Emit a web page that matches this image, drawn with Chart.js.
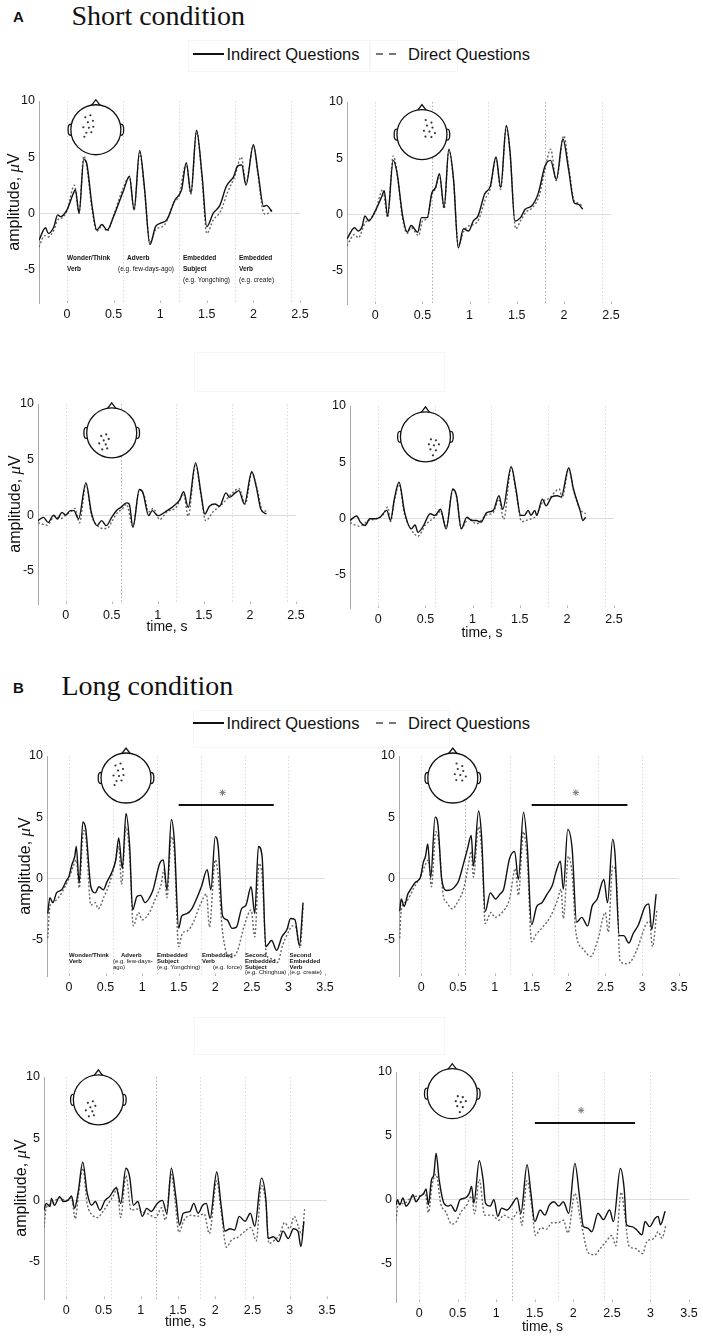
<!DOCTYPE html>
<html>
<head>
<meta charset="utf-8">
<script src="https://cdn.jsdelivr.net/npm/chart.js"></script>
<style>
  html, body { margin:0; padding:0; background:#fff; }
  body { width:703px; height:1339px; position:relative; overflow:hidden; font-family:"Liberation Sans", Arial, Helvetica, sans-serif; color:#111; }
  .abs { position:absolute; white-space:nowrap; line-height:1; }
  .panelLetter { font-weight:bold; font-size:15px; }
  .title { font-family:"Liberation Serif", "Times New Roman", serif; font-size:28px; }
  .legtext { font-size:16.5px; }
  .ytitle { font-size:16px; transform:translate(-50%,-50%) rotate(-90deg); }
  .ytitle i { font-family:"Liberation Serif", serif; font-size:17px; }
  .ann { font-size:6.5px; line-height:11px; }
  .ann b { font-weight:bold; }
  .annL { font-size:6px; line-height:5.8px; }
  .annL b { font-weight:bold; }
  .fbox { position:absolute; border:1px solid #f6f6f6; box-sizing:border-box; }
</style>
</head>
<body>
<script>
// ---------------- DATA ----------------
const SERIES_LABELS = ['Indirect Questions', 'Direct Questions'];
const Y_TICKS = [-5, 0, 5, 10];
const SHORT_X_TICKS = [0, 0.5, 1, 1.5, 2, 2.5];
const LONG_X_TICKS = [0, 0.5, 1, 1.5, 2, 2.5, 3, 3.5];
const SHORT_ONSETS = [0, 0.6, 1.2, 1.8, 2.4];
const LONG_ONSETS = [0, 0.6, 1.2, 1.8, 2.4, 3.0];
const SIG_T = [1.5, 2.8];
const SIG_V = [6, 6];
const STAR_T = [2.1];
const STAR_V = [7];

// Short condition, left-frontal
const A1_IND_T = [-0.30,-0.23,-0.20,-0.14,-0.10,-0.07,0.00,0.07,0.09,0.13,0.18,0.21,0.27,0.32,0.375,0.43,0.50,0.61,0.67,0.72,0.78,0.83,0.89,0.95,1.00,1.07,1.16,1.23,1.28,1.33,1.39,1.45,1.50,1.57,1.64,1.71,1.79,1.83,1.875,1.92,2.00,2.05,2.11,2.14,2.20];
const A1_IND_V = [-2.4,-1.3,-1.8,-1.2,-0.15,-0.3,0.3,1.8,2.1,0.0,4.8,4.5,0.6,-1.5,-1.0,-1.5,-0.3,2.1,3.3,0.3,5.6,2.4,-2.8,-1.2,-0.9,-0.6,1.2,2.1,4.5,1.8,7.4,3.3,-1.2,0.0,0.7,2.4,3.3,4.2,4.3,2.5,6.1,3.6,0.6,0.7,0.15];
const A1_DIR_T = [-0.30,-0.24,-0.20,-0.14,-0.10,-0.05,0.00,0.08,0.13,0.18,0.21,0.27,0.32,0.38,0.43,0.50,0.60,0.67,0.72,0.78,0.83,0.89,0.95,1.05,1.15,1.20,1.28,1.33,1.39,1.45,1.50,1.57,1.65,1.72,1.80,1.87,1.92,2.00,2.05,2.10,2.13,2.20];
const A1_DIR_V = [-3.0,-2.0,-2.1,-1.5,-0.6,-0.4,0.2,2.5,0.0,5.1,4.3,0.3,-1.6,-1.1,-1.6,-0.2,2.2,3.2,0.3,5.4,2.2,-2.6,-1.5,-1.0,1.0,1.5,4.4,1.7,7.3,3.0,-1.8,-0.6,0.2,1.8,3.3,5.0,2.7,6.0,3.4,0.3,-0.1,0.3];

// Short condition, right-frontal
const A2_IND_T = [-0.30,-0.22,-0.18,-0.14,-0.11,-0.07,0.00,0.07,0.095,0.13,0.19,0.23,0.29,0.34,0.38,0.45,0.49,0.55,0.60,0.64,0.68,0.73,0.78,0.83,0.88,0.935,0.99,1.04,1.09,1.16,1.22,1.28,1.33,1.39,1.43,1.48,1.54,1.59,1.66,1.73,1.80,1.86,1.92,1.99,2.05,2.11,2.15,2.20];
const A2_IND_V = [-2.2,-1.2,-1.5,-1.1,-0.15,-0.6,0.3,1.6,2.1,-0.15,4.8,3.7,-0.15,-1.6,-1.0,-1.6,-0.3,-0.3,1.9,2.4,3.6,0.6,5.8,3.1,-3.0,-1.3,-1.5,-0.6,-0.15,1.8,2.5,5.1,2.4,7.9,5.5,-0.6,-0.3,0.45,0.75,1.9,4.3,4.8,3.1,6.7,4.0,1.0,0.9,0.45];
const A2_DIR_T = [-0.30,-0.22,-0.18,-0.11,-0.05,0.00,0.08,0.13,0.19,0.23,0.29,0.34,0.38,0.46,0.50,0.55,0.60,0.64,0.68,0.73,0.78,0.83,0.88,0.94,1.00,1.05,1.10,1.17,1.22,1.28,1.33,1.39,1.43,1.49,1.54,1.60,1.67,1.74,1.80,1.86,1.92,2.00,2.05,2.11,2.15,2.20];
const A2_DIR_V = [-2.8,-1.8,-2.1,-0.8,-0.4,0.2,2.2,-0.3,5.2,3.8,-0.4,-1.7,-1.2,-1.9,-0.6,-0.4,1.7,2.3,3.5,0.5,5.7,3.0,-2.8,-1.5,-1.0,-0.9,-0.4,1.4,2.3,5.0,2.2,7.8,5.3,-1.3,-0.6,0.2,0.6,1.7,4.0,5.8,3.0,7.0,4.3,1.2,1.0,0.7];

// Short condition, left-posterior
const A3_IND_T = [-0.30,-0.24,-0.19,-0.13,-0.09,-0.04,0.00,0.05,0.09,0.14,0.22,0.28,0.34,0.39,0.44,0.50,0.55,0.60,0.66,0.69,0.73,0.80,0.84,0.90,0.94,1.00,1.10,1.17,1.24,1.28,1.33,1.41,1.47,1.51,1.56,1.62,1.67,1.74,1.78,1.84,1.88,1.94,2.02,2.07,2.12,2.18];
const A3_IND_V = [-0.5,-0.2,-0.65,0.0,-0.35,0.25,0.0,0.4,0.4,-0.35,2.9,0.2,-0.95,-0.5,-0.95,-0.2,0.4,0.7,1.1,1.0,-1.1,2.3,2.0,-0.05,0.4,-0.05,0.4,0.8,1.4,2.1,0.7,4.7,1.9,0.1,0.8,1.0,0.8,2.0,1.6,2.0,2.2,1.0,3.9,2.5,0.5,0.1];
const A3_DIR_T = [-0.30,-0.20,-0.12,-0.05,0.00,0.05,0.10,0.15,0.22,0.28,0.34,0.40,0.45,0.50,0.56,0.62,0.66,0.73,0.80,0.85,0.90,0.95,1.02,1.10,1.20,1.28,1.33,1.41,1.47,1.52,1.60,1.70,1.80,1.88,1.95,2.02,2.08,2.14,2.20];
const A3_DIR_V = [-0.7,-0.9,-0.1,-0.3,0.0,0.3,0.6,-0.7,2.8,0.0,-0.9,-1.2,-1.2,-0.6,0.2,0.6,1.0,-1.0,2.3,1.8,0.3,0.6,-0.4,0.3,0.7,1.9,-0.1,4.6,1.7,-0.5,0.3,1.0,1.9,2.4,1.0,3.8,2.3,0.3,0.5];

// Short condition, right-posterior
const A4_IND_T = [-0.30,-0.23,-0.19,-0.14,-0.09,-0.035,0.02,0.09,0.13,0.17,0.22,0.28,0.35,0.39,0.42,0.48,0.55,0.60,0.66,0.72,0.79,0.83,0.88,0.94,0.99,1.04,1.09,1.15,1.22,1.28,1.32,1.41,1.46,1.51,1.55,1.59,1.62,1.66,1.68,1.74,1.78,1.84,1.90,1.94,2.02,2.07,2.14,2.17,2.20];
const A4_IND_V = [-0.2,0.2,-0.35,-0.65,-0.05,-0.05,0.1,0.7,-0.2,1.7,3.2,0.5,-0.95,-0.6,-1.25,-0.65,0.4,0.25,0.8,-0.95,2.6,2.0,-0.95,0.1,-0.2,-0.2,-0.35,0.5,0.7,2.0,0.8,4.6,2.6,0.25,0.25,0.7,0.25,0.7,0.25,1.7,1.1,1.9,2.0,1.9,4.5,2.6,0.7,-0.2,0.1];
const A4_DIR_T = [-0.30,-0.20,-0.10,0.00,0.05,0.10,0.13,0.17,0.22,0.28,0.35,0.42,0.50,0.60,0.66,0.72,0.79,0.83,0.88,0.96,1.04,1.15,1.22,1.28,1.33,1.41,1.46,1.52,1.60,1.66,1.75,1.82,1.88,1.92,1.95,2.02,2.07,2.14,2.20];
const A4_DIR_V = [-0.4,-0.7,-0.2,0.0,0.3,1.0,-0.3,1.5,3.0,0.3,-1.0,-1.6,-0.6,0.1,0.6,-0.8,2.5,1.9,-0.9,0.0,-0.5,0.3,0.5,1.7,-0.1,4.5,2.4,-0.3,-0.1,0.1,1.5,1.8,2.4,2.6,1.8,4.4,2.5,0.8,0.4];

// Long condition, left-frontal
const B1_IND_T = [-0.29,-0.26,-0.22,-0.17,-0.10,-0.03,0.00,0.04,0.08,0.10,0.14,0.19,0.23,0.30,0.36,0.41,0.47,0.52,0.58,0.64,0.68,0.73,0.78,0.83,0.87,0.93,0.98,1.04,1.10,1.15,1.24,1.29,1.34,1.40,1.44,1.50,1.54,1.61,1.68,1.75,1.81,1.89,1.94,2.00,2.04,2.10,2.16,2.23,2.29,2.36,2.42,2.49,2.54,2.59,2.64,2.69,2.77,2.84,2.91,2.98,3.03,3.09,3.15,3.20];
const B1_IND_V = [-2.9,-1.6,-2.0,-1.2,-0.95,-0.15,0.15,1.1,1.8,2.6,-0.4,4.6,4.0,-0.7,-1.2,-0.7,-0.95,-0.3,0.4,1.5,3.3,0.8,5.3,2.6,-2.6,-1.5,-1.4,-2.0,-1.6,-0.95,1.2,1.5,-0.95,4.8,3.1,-4.1,-3.1,-2.9,-2.5,-1.6,-0.7,0.7,-0.95,3.4,2.6,-3.1,-3.4,-4.1,-4.0,-2.5,-2.2,-0.7,-2.9,2.6,1.8,-5.6,-5.1,-5.9,-4.8,-4.2,-3.3,-3.4,-5.5,-2.0];
const B1_DIR_T = [-0.29,-0.26,-0.20,-0.10,0.00,0.06,0.10,0.14,0.20,0.23,0.30,0.36,0.40,0.48,0.55,0.63,0.68,0.72,0.78,0.83,0.88,0.95,1.00,1.10,1.18,1.26,1.30,1.34,1.40,1.44,1.50,1.55,1.62,1.70,1.80,1.88,1.92,2.00,2.04,2.10,2.20,2.30,2.40,2.49,2.54,2.60,2.64,2.70,2.78,2.85,2.92,3.00,3.05,3.10,3.16,3.20];
const B1_DIR_V = [-4.9,-2.3,-1.9,-1.2,0.0,1.0,1.5,-0.8,3.9,3.4,-2.2,-2.0,-2.5,-1.5,-0.5,1.3,2.6,-0.5,4.2,1.8,-3.9,-2.8,-3.4,-2.8,-1.7,-0.5,0.7,-1.6,3.4,2.2,-5.6,-4.5,-4.3,-3.6,-2.1,-1.3,-4.0,1.5,0.2,-4.4,-6.5,-6.0,-3.8,-2.6,-4.8,1.2,0.2,-6.3,-6.6,-6.9,-5.5,-4.4,-3.9,-4.0,-5.7,-2.3];

// Long condition, right-frontal
const B2_IND_T = [-0.29,-0.27,-0.23,-0.18,-0.14,-0.08,-0.01,0.03,0.06,0.09,0.13,0.19,0.23,0.28,0.35,0.42,0.47,0.51,0.58,0.63,0.68,0.71,0.78,0.82,0.87,0.94,1.01,1.07,1.12,1.20,1.27,1.32,1.39,1.44,1.50,1.57,1.64,1.71,1.78,1.83,1.89,1.93,1.99,2.05,2.11,2.18,2.26,2.32,2.39,2.48,2.53,2.60,2.63,2.69,2.75,2.82,2.88,2.95,3.04,3.09,3.13,3.19];
const B2_IND_V = [-2.7,-1.7,-2.3,-1.3,-0.9,-0.35,0.05,1.3,1.8,2.8,0.05,5.0,4.3,-0.1,-1.0,-0.9,-0.6,-0.2,1.3,2.4,3.5,1.0,5.5,3.5,-2.7,-1.2,-1.7,-1.3,-0.9,1.6,2.2,-0.1,5.4,2.7,-3.8,-2.3,-2.0,-1.3,-0.6,0.5,1.4,-0.9,4.0,2.4,-3.6,-3.2,-3.9,-2.3,-1.7,-0.1,-2.0,3.2,2.1,-4.7,-4.7,-5.3,-4.5,-3.8,-2.3,-2.1,-4.2,-1.3];
const B2_DIR_T = [-0.29,-0.27,-0.20,-0.10,0.00,0.05,0.10,0.14,0.20,0.24,0.30,0.35,0.42,0.50,0.58,0.64,0.68,0.71,0.78,0.83,0.87,0.95,1.00,1.10,1.20,1.28,1.32,1.39,1.44,1.50,1.56,1.65,1.75,1.85,1.90,1.93,2.00,2.05,2.10,2.20,2.30,2.40,2.50,2.54,2.60,2.65,2.70,2.80,2.88,2.95,3.05,3.10,3.14,3.20];
const B2_DIR_V = [-4.9,-2.6,-1.9,-0.8,0.2,1.0,1.5,-0.7,3.8,3.0,-1.4,-2.0,-2.5,-1.9,-0.8,1.0,2.2,0.1,4.2,1.5,-3.7,-2.8,-3.2,-2.8,-1.7,0.8,-1.4,3.8,1.5,-5.2,-4.6,-4.0,-3.2,-1.8,-0.9,-3.3,1.8,0.3,-4.4,-5.8,-6.4,-5.0,-2.8,-4.4,1.0,0.0,-6.8,-7.0,-6.5,-5.5,-3.8,-3.5,-5.6,-2.6];

// Long condition, left-posterior
const B3_IND_T = [-0.30,-0.27,-0.22,-0.20,-0.16,-0.09,-0.04,0.02,0.07,0.11,0.16,0.22,0.28,0.34,0.39,0.45,0.52,0.58,0.67,0.73,0.80,0.85,0.90,0.96,1.02,1.08,1.14,1.22,1.29,1.35,1.41,1.47,1.52,1.57,1.66,1.71,1.77,1.83,1.88,1.93,2.02,2.08,2.13,2.20,2.26,2.32,2.40,2.47,2.53,2.62,2.68,2.71,2.78,2.85,2.91,2.98,3.05,3.11,3.15,3.19];
const B3_IND_V = [-0.8,-0.25,-0.5,0.15,-0.4,0.3,-0.1,0.0,0.35,-0.65,0.7,3.1,0.6,-0.4,-0.1,-0.8,0.0,0.3,1.0,-0.25,2.6,1.9,-0.4,-0.1,-1.3,-0.65,-0.9,-0.25,0.0,-1.05,2.6,0.3,-2.0,-1.05,-0.9,-0.25,-1.05,-0.4,-0.25,-1.45,2.3,-0.5,-2.5,-2.3,-2.4,-1.3,-1.7,-1.05,-2.1,1.8,0.0,-3.1,-2.95,-3.35,-2.5,-3.1,-2.3,-2.5,-3.75,-1.7];
const B3_DIR_T = [-0.30,-0.27,-0.20,-0.10,0.00,0.07,0.12,0.16,0.22,0.28,0.35,0.42,0.48,0.56,0.65,0.68,0.73,0.80,0.87,0.95,1.00,1.10,1.20,1.28,1.33,1.41,1.46,1.51,1.58,1.68,1.76,1.85,1.92,2.02,2.08,2.15,2.22,2.30,2.40,2.48,2.55,2.62,2.68,2.72,2.80,2.87,2.93,3.00,3.06,3.12,3.16,3.20];
const B3_DIR_V = [-2.2,-0.6,-0.3,0.2,0.0,0.2,-1.5,0.3,2.6,-0.3,-1.2,-1.4,-1.0,-0.3,0.6,1.1,-1.4,2.0,-0.8,-0.7,-0.9,-1.1,-1.4,-0.6,-1.6,2.1,0.0,-2.6,-1.6,-1.2,-1.3,-1.1,-2.7,1.6,-1.0,-3.8,-3.2,-3.0,-2.5,-2.2,-3.3,1.2,-0.3,-3.5,-3.2,-2.7,-1.8,-2.3,-1.3,-2.2,-2.8,-0.7];

// Long condition, right-posterior
const B4_IND_T = [-0.30,-0.28,-0.25,-0.21,-0.17,-0.13,-0.08,-0.04,0.01,0.06,0.09,0.12,0.16,0.19,0.22,0.26,0.32,0.38,0.41,0.47,0.53,0.60,0.65,0.68,0.71,0.78,0.83,0.86,0.92,0.97,1.02,1.07,1.14,1.20,1.27,1.32,1.40,1.45,1.50,1.57,1.63,1.69,1.75,1.81,1.87,1.94,2.02,2.08,2.13,2.18,2.24,2.32,2.39,2.47,2.52,2.61,2.66,2.69,2.76,2.82,2.89,2.93,2.99,3.06,3.10,3.13,3.19];
const B4_IND_V = [-0.4,0.0,-0.4,0.15,-0.5,-0.25,0.4,-0.15,0.25,0.5,0.85,-0.4,1.55,1.95,3.65,1.55,-0.25,-0.5,-0.4,-0.9,0.0,0.15,0.5,1.05,-0.25,3.05,1.55,-0.25,-0.5,0.0,-1.3,-0.65,-0.8,-0.4,0.15,-1.05,2.75,0.5,-1.7,-0.8,-1.2,-0.4,-0.15,-0.5,-0.15,-1.05,2.85,0.25,-2.1,-2.2,-2.5,-1.05,-1.55,-0.8,-1.7,2.45,0.8,-1.95,-2.1,-2.35,-2.75,-1.7,-2.1,-1.45,-1.3,-1.95,-0.9];
const B4_DIR_T = [-0.30,-0.27,-0.20,-0.10,0.00,0.08,0.12,0.17,0.22,0.28,0.35,0.42,0.47,0.55,0.62,0.68,0.72,0.78,0.85,0.95,1.03,1.10,1.20,1.30,1.33,1.40,1.46,1.51,1.58,1.65,1.72,1.80,1.87,1.93,2.02,2.10,2.20,2.28,2.35,2.42,2.50,2.55,2.62,2.67,2.72,2.80,2.90,2.95,3.05,3.10,3.15,3.20];
const B4_DIR_V = [-1.6,-0.3,-0.3,0.2,0.3,0.5,-1.0,1.2,2.0,-0.3,-1.0,-1.9,-1.8,-0.9,-0.4,0.3,-1.1,1.6,-1.2,-1.2,-1.6,-1.2,-1.5,-0.8,-2.0,1.5,-0.5,-2.8,-2.2,-2.3,-1.8,-1.8,-1.6,-2.6,0.5,-1.8,-4.2,-4.3,-3.8,-3.3,-2.8,-3.6,0.6,-1.3,-3.6,-3.8,-4.2,-3.3,-3.0,-2.5,-3.0,-2.0];

// ---------------- LAYOUT / STYLE ----------------
const DOTS_LF = [[-0.42,-0.5],[-0.22,-0.58],[-0.32,-0.3],[-0.12,-0.36],[-0.5,-0.1],[-0.28,-0.08],[-0.1,-0.12],[-0.38,0.12],[-0.18,0.1],[-0.46,0.28]];
const DOTS_RF = [[0.15,-0.58],[0.38,-0.48],[0.2,-0.36],[0.42,-0.28],[0.08,-0.15],[0.3,-0.12],[0.52,-0.06],[0.14,0.08],[0.38,0.1]];
const DOTS_LP = [[-0.42,0.12],[-0.22,0.06],[-0.32,0.3],[-0.12,0.24],[-0.5,0.42],[-0.24,0.46],[-0.38,0.66],[-0.18,0.62]];
const DOTS_RP = [[0.22,0.1],[0.42,0.14],[0.14,0.3],[0.34,0.34],[0.54,0.3],[0.2,0.5],[0.42,0.54],[0.3,0.74]];

const PANELS = [
  {ind:[A1_IND_T,A1_IND_V], dir:[A1_DIR_T,A1_DIR_V], L:39, R:300, T:101, B:303, xmax:2.5, xt:SHORT_X_TICKS, on:SHORT_ONSETS, dark:[], head:[0.31,7.44], dots:DOTS_LF, sig:false, xtitle:false},
  {ind:[A2_IND_T,A2_IND_V], dir:[A2_DIR_T,A2_DIR_V], L:347, R:611, T:102, B:304, xmax:2.5, xt:SHORT_X_TICKS, on:SHORT_ONSETS, dark:[0.6,1.8], head:[0.495,7.1], dots:DOTS_RF, sig:false, xtitle:false},
  {ind:[A3_IND_T,A3_IND_V], dir:[A3_DIR_T,A3_DIR_V], L:38, R:296, T:404, B:604, xmax:2.5, xt:SHORT_X_TICKS, on:SHORT_ONSETS, dark:[0.6], head:[0.5,7.4], dots:DOTS_LP, sig:false, xtitle:true, tOff:23},
  {ind:[A4_IND_T,A4_IND_V], dir:[A4_DIR_T,A4_DIR_V], L:350, R:614, T:406, B:608, xmax:2.5, xt:SHORT_X_TICKS, on:SHORT_ONSETS, dark:[], head:[0.5,7.25], dots:DOTS_RP, sig:false, xtitle:true, tOff:25},
  {ind:[B1_IND_T,B1_IND_V], dir:[B1_DIR_T,B1_DIR_V], L:47, R:325, T:756, B:976, xmax:3.5, xt:LONG_X_TICKS, on:LONG_ONSETS, dark:[], head:[0.78,8.2], dots:DOTS_LF, sig:true, xtitle:false},
  {ind:[B2_IND_T,B2_IND_V], dir:[B2_DIR_T,B2_DIR_V], L:399, R:679, T:756, B:976, xmax:3.5, xt:LONG_X_TICKS, on:LONG_ONSETS, dark:[0.6], head:[0.43,8.2], dots:DOTS_RF, sig:true, xtitle:false},
  {ind:[B3_IND_T,B3_IND_V], dir:[B3_DIR_T,B3_DIR_V], L:44, R:327, T:1077, B:1299, xmax:3.5, xt:LONG_X_TICKS, on:LONG_ONSETS, dark:[1.2], head:[0.43,8.15], dots:DOTS_LP, sig:false, xtitle:true, tOff:23},
  {ind:[B4_IND_T,B4_IND_V], dir:[B4_DIR_T,B4_DIR_V], L:396, R:689, T:1072, B:1302, xmax:3.5, xt:LONG_X_TICKS, on:LONG_ONSETS, dark:[1.2], head:[0.43,8.3], dots:DOTS_RP, sig:true, xtitle:true, tOff:25},
];

function zip(t, v) {
  const n = Math.min(t.length, v.length);
  const out = [];
  for (let i = 0; i < n; i++) out.push({x: t[i], y: v[i]});
  return out;
}

const decorPlugin = {
  id: 'decor',
  beforeDatasetsDraw(chart, args, o) {
    const {ctx, chartArea, scales: {x, y}} = chart;
    ctx.save();
    ctx.lineWidth = 1;
    ctx.setLineDash([1.5, 2]);
    for (const v of o.onsets) {
      const px = Math.round(x.getPixelForValue(v)) + 0.5;
      ctx.strokeStyle = o.dark.includes(v) ? '#b0b0b0' : '#dadada';
      ctx.beginPath(); ctx.moveTo(px, chartArea.top); ctx.lineTo(px, chartArea.bottom); ctx.stroke();
    }
    ctx.setLineDash([]);
    ctx.strokeStyle = '#b8b8b8';
    for (const v of o.xticks) {
      const px = Math.round(x.getPixelForValue(v)) + 0.5;
      ctx.beginPath(); ctx.moveTo(px, chartArea.bottom); ctx.lineTo(px, chartArea.bottom - 2.5); ctx.stroke();
    }
    ctx.restore();
  },
  afterDatasetsDraw(chart, args, o) {
    const {ctx, scales: {x, y}} = chart;
    const cx = x.getPixelForValue(o.head[0]);
    const cy = y.getPixelForValue(o.head[1]);
    const r = 25;
    ctx.save();
    ctx.strokeStyle = '#111';
    ctx.fillStyle = '#fff';
    ctx.lineWidth = 1.3;
    for (const s of [-1, 1]) {
      ctx.beginPath();
      ctx.ellipse(cx + s * (r + 0.5), cy, 2.3, 5.5, 0, 0, Math.PI * 2);
      ctx.fill(); ctx.stroke();
    }
    ctx.beginPath();
    ctx.moveTo(cx - 4.5, cy - r + 1);
    ctx.lineTo(cx, cy - r - 5);
    ctx.lineTo(cx + 4.5, cy - r + 1);
    ctx.fill(); ctx.stroke();
    ctx.beginPath();
    ctx.arc(cx, cy, r, 0, Math.PI * 2);
    ctx.fill(); ctx.stroke();
    ctx.fillStyle = '#333';
    for (const d of o.dots) {
      ctx.beginPath();
      ctx.arc(cx + d[0] * r, cy + d[1] * r, 1.1, 0, Math.PI * 2);
      ctx.fill();
    }
    ctx.restore();
  }
};

function makePanel(p) {
  const padL = 40, padT = 12, padR = 16, padB = 36;
  const box = document.createElement('div');
  box.style.cssText = `position:absolute;left:${p.L - padL}px;top:${p.T - padT}px;width:${p.R - p.L + padL + padR}px;height:${p.B - p.T + padT + padB}px;`;
  const cv = document.createElement('canvas');
  box.appendChild(cv);
  document.body.appendChild(box);

  const datasets = [
    {label: SERIES_LABELS[0], data: zip(p.ind[0], p.ind[1]), borderColor: '#111', borderWidth: 1.4, pointRadius: 0, fill: false, cubicInterpolationMode: 'monotone'},
    {label: SERIES_LABELS[1], data: zip(p.dir[0], p.dir[1]), borderColor: '#666', borderWidth: 1.4, borderDash: [2, 2], pointRadius: 0, fill: false, cubicInterpolationMode: 'monotone'},
  ];
  if (p.sig) {
    datasets.push({label: 'sig', data: zip(SIG_T, SIG_V), borderColor: '#111', borderWidth: 2, pointRadius: 0, fill: false});
    datasets.push({label: 'star', data: zip(STAR_T, STAR_V), showLine: false, pointStyle: 'star', pointRadius: 3.2, borderColor: '#777', borderWidth: 1, backgroundColor: '#777'});
  }

  new Chart(cv, {
    type: 'line',
    data: {datasets},
    plugins: [decorPlugin],
    options: {
      responsive: true,
      maintainAspectRatio: false,
      animation: false,
      events: [],
      layout: {padding: {left: 0, top: padT, right: padR, bottom: 0}, autoPadding: false},
      plugins: {
        legend: {display: false},
        tooltip: {enabled: false},
        decor: {onsets: p.on, dark: p.dark, xticks: p.xt, head: p.head, dots: p.dots}
      },
      scales: {
        x: {
          type: 'linear', min: -0.3, max: p.xmax,
          border: {display: false},
          grid: {display: false, drawTicks: false},
          afterBuildTicks: s => { s.ticks = p.xt.map(v => ({value: v})); },
          afterFit: s => { s.height = padB; s.paddingLeft = 0; s.paddingRight = 0; },
          ticks: {padding: 4, color: '#111', font: {family: '"Liberation Sans", Arial, sans-serif', size: 12.5}, maxRotation: 0, autoSkip: false, callback: v => String(v)},
          title: {display: p.xtitle, text: 'time, s', color: '#111', font: {family: '"Liberation Sans", Arial, sans-serif', size: 14}, padding: {top: 0, bottom: padB - 8.4 - (p.tOff || 23)}}
        },
        y: {
          type: 'linear', min: -8, max: 10,
          border: {display: true, color: '#a8a8a8', width: 1},
          grid: {drawTicks: false, color: c => (c.tick && c.tick.value === 0) ? '#dcdcdc' : 'rgba(0,0,0,0)', lineWidth: 1},
          afterBuildTicks: s => { s.ticks = Y_TICKS.map(v => ({value: v})); },
          afterFit: s => { s.width = padL; },
          ticks: {padding: 4, color: '#111', font: {family: '"Liberation Sans", Arial, sans-serif', size: 12.5}, callback: v => String(v)}
        }
      }
    }
  });
}

function addText(html, cls, left, top) {
  const d = document.createElement('div');
  d.className = 'abs ' + cls;
  d.style.left = left + 'px';
  d.style.top = top + 'px';
  d.innerHTML = html;
  document.body.appendChild(d);
  return d;
}
function addLine(left, top, width, h, color) {
  const d = document.createElement('div');
  d.style.cssText = `position:absolute;left:${left}px;top:${top}px;width:${width}px;height:${h}px;background:${color};`;
  document.body.appendChild(d);
}
function addBox(left, top, width, height) {
  const d = document.createElement('div');
  d.className = 'fbox';
  d.style.left = left + 'px'; d.style.top = top + 'px';
  d.style.width = width + 'px'; d.style.height = height + 'px';
  document.body.appendChild(d);
}
function addLegend(cy) {
  addLine(193, cy - 1, 31, 2, '#111');
  addText(SERIES_LABELS[0], 'legtext', 226.5, cy - 8);
  addLine(376, cy - 1, 7, 2, '#777');
  addLine(389, cy - 1, 7, 2, '#777');
  addText(SERIES_LABELS[1], 'legtext', 408, cy - 8);
}
function addYTitle(cx, cy) {
  addText('amplitude, <i>μ</i>V', 'ytitle', cx, cy);
}

// faint frame remnants
addBox(188, 40, 182, 32);
addBox(370, 40, 88, 32);
addBox(194, 352, 251, 40);
addBox(193, 710, 257, 38);
addBox(194, 1017, 251, 38);

// Titles & legends
addText('A', 'panelLetter', 13, 9);
addText('Short condition', 'title', 71.5, 1.5);
addLegend(53.5);
addText('B', 'panelLetter', 13, 680);
addText('Long condition', 'title', 61.5, 671.5);
addLegend(722.5);

PANELS.forEach(makePanel);

addYTitle(13, 202);
addYTitle(14, 504);
addYTitle(24, 866);
addYTitle(20, 1188);

// Word annotations, short condition
addText('<b>Wonder/Think</b><br><b>Verb</b>', 'ann', 67, 252);
addText('<b>Adverb</b>', 'ann', 127, 252);
addText('(e.g. few-days-ago)', 'ann', 118, 263);
addText('<b>Embedded</b><br><b>Subject</b><br>(e.g. Yongching)', 'ann', 183, 252);
addText('<b>Embedded</b><br><b>Verb</b><br>(e.g. create)', 'ann', 239, 252);

// Word annotations, long condition
addText('<b>Wonder/Think</b><br><b>Verb</b>', 'annL', 69, 953);
addText('<b>Adverb</b>', 'annL', 121, 953);
addText('(e.g. few-days-<br>ago)', 'annL', 113, 958.8);
addText('<b>Embedded</b><br><b>Subject</b><br>(e.g. Yongching)', 'annL', 157, 953);
addText('<b>Embedded</b><br><b>Verb</b>', 'annL', 202, 953);
addText('(e.g. force)', 'annL', 213, 964.6);
addText('<b>Second</b><br><b>Embedded</b><br><b>Subject</b><br>(e.g. Chinghua)', 'annL', 245, 953);
addText('<b>Second</b><br><b>Embedded</b><br><b>Verb</b><br>(e.g. create)', 'annL', 289.5, 953);
</script>
</body>
</html>
